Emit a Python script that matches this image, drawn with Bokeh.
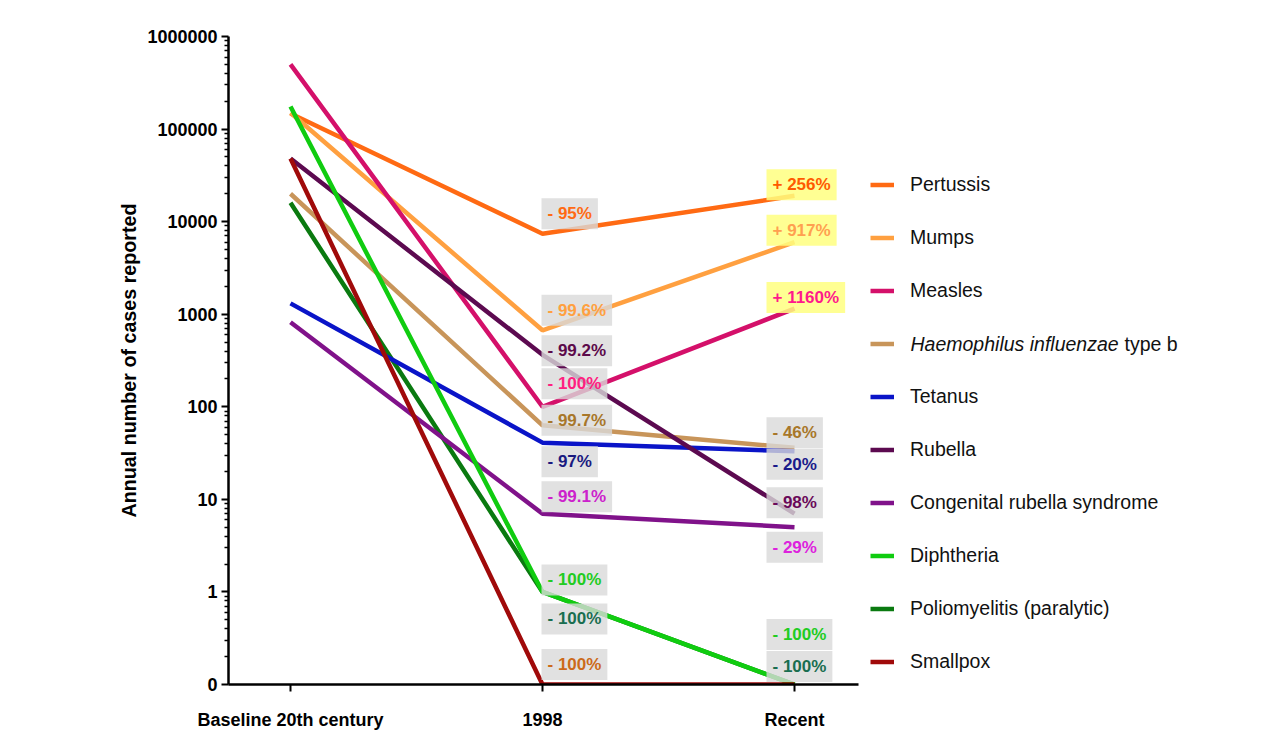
import math
from bokeh.plotting import figure
from bokeh.models import FixedTicker, Range1d, Label, Legend, LegendItem
from bokeh.embed import file_html
from bokeh.resources import INLINE

# ---------------- data ----------------
categories = ["Baseline 20th century", "1998", "Recent"]
diseases = ["Pertussis", "Mumps", "Measles", "Haemophilus influenzae type b", "Tetanus",
            "Rubella", "Congenital rubella syndrome", "Diphtheria",
            "Poliomyelitis (paralytic)", "Smallpox"]
pertussis = [147000, 7400, 19000]
mumps = [150000, 670, 6000]
measles = [500000, 100, 1150]
hib = [20000, 63, 36]
tetanus = [1310, 41, 33]
rubella = [48000, 364, 7]
crs = [820, 7, 5]
diphtheria = [175000, 1, 0]
polio = [16000, 1, 0]
smallpox = [48000, 0, 0]
series = [pertussis, mumps, measles, hib, tetanus, rubella, crs, diphtheria, polio, smallpox]

change_1998 = ["- 95%", "- 99.6%", "- 100%", "- 99.7%", "- 97%", "- 99.2%", "- 99.1%",
               "- 100%", "- 100%", "- 100%"]
change_recent = ["+ 256%", "+ 917%", "+ 1160%", "- 46%", "- 20%", "- 98%", "- 29%",
                 "- 100%", "- 100%", None]

ytick_values = [0.1, 1, 10, 100, 1000, 10000, 100000, 1000000]
ytick_labels = ["0", "1", "10", "100", "1000", "10000", "100000", "1000000"]

# ---------------- styles / layout ----------------
line_colors = ["#ff6a13", "#ffa040", "#d4106a", "#c8955a", "#0a14c8", "#5c0a50",
               "#80128a", "#10cc10", "#0a7a10", "#a00a0a"]
draw_order = [8, 0, 1, 2, 3, 4, 5, 6, 7, 9]  # polio beneath diphtheria
text_1998 = ["#ff6a13", "#ffa040", "#ff2080", "#a8772a", "#1a1a80", "#5c0a4a",
             "#cc22cc", "#22cc22", "#1a6e50", "#cc6a1a"]
text_recent = ["#ff5a00", "#ffa050", "#ff1a8c", "#a8772a", "#1a1a8a", "#6a0a5a",
               "#dd22dd", "#22cc22", "#1a6e50", None]
off_1998 = [20, 20, 23, 5, -19, 4, 17, 12, -27, 20]
off_recent = [11, 12, 11, 15, -13, 11, -20, 50, 18, None]

ZERO_POS = 0.1  # where the "0" value sits on the log axis
FRAME_L, FRAME_T, FRAME_W, FRAME_H = 228, 36, 1048, 648
PX_PER_CAT = 252
X0 = -62 / PX_PER_CAT
X1 = X0 + FRAME_W / PX_PER_CAT
FONT = "Liberation Sans"


def px_x(px):
    return X0 + px / PX_PER_CAT


def px_y(py_from_top):
    lo, hi = math.log10(ZERO_POS), math.log10(1e6)
    return 10 ** (hi - py_from_top / FRAME_H * (hi - lo))


p = figure(frame_width=FRAME_W, frame_height=FRAME_H, y_axis_type="log",
           x_range=Range1d(X0, X1), y_range=Range1d(ZERO_POS, 1e6),
           output_backend="svg", toolbar_location=None,
           min_border_left=FRAME_L, min_border_top=FRAME_T, min_border_bottom=46,
           min_border_right=0)
p.outline_line_color = None
p.xgrid.visible = False
p.ygrid.visible = False
p.background_fill_color = "white"
p.border_fill_color = "white"

xs = list(range(len(categories)))
renderers = [None] * len(series)
for i in draw_order:
    ys = [v if v > 0 else ZERO_POS for v in series[i]]
    renderers[i] = p.line(xs, ys, line_color=line_colors[i], line_width=4.5)

# annotation boxes
for i, vals in enumerate(series):
    v = vals[1] if vals[1] > 0 else ZERO_POS
    p.add_layout(Label(x=1, y=v, x_offset=-1, y_offset=off_1998[i], text=change_1998[i],
                       text_align="left", text_baseline="middle",
                       text_font=FONT, text_font_size="17px", text_font_style="bold",
                       text_color=text_1998[i], background_fill_color="#d9d9d9",
                       background_fill_alpha=0.8, padding=6))
    if change_recent[i] is not None:
        v = vals[2] if vals[2] > 0 else ZERO_POS
        yellow = change_recent[i].startswith("+")
        p.add_layout(Label(x=2, y=v, x_offset=-28, y_offset=off_recent[i], text=change_recent[i],
                           text_align="left", text_baseline="middle",
                           text_font=FONT, text_font_size="17px", text_font_style="bold",
                           text_color=text_recent[i],
                           background_fill_color="#ffff80" if yellow else "#d9d9d9",
                           background_fill_alpha=0.85 if yellow else 0.8, padding=6))

# axes
p.xaxis.ticker = FixedTicker(ticks=xs)
p.xaxis.major_label_overrides = {i: c for i, c in enumerate(categories)}
p.xaxis.bounds = (X0, 2 + 64 / PX_PER_CAT)
p.xaxis.axis_line_width = 2.5
p.xaxis.major_tick_line_width = 2
p.xaxis.major_tick_out = 7
p.xaxis.major_tick_in = 0
p.xaxis.minor_tick_line_color = None
p.xaxis.major_label_standoff = 18
p.xaxis.major_label_text_font = FONT
p.xaxis.major_label_text_font_size = "18px"
p.xaxis.major_label_text_font_style = "bold"
p.xaxis.major_label_text_color = "black"

minor = [k * 10 ** d for d in range(-1, 6) for k in range(2, 10)]
p.yaxis.ticker = FixedTicker(ticks=ytick_values, minor_ticks=minor)
p.yaxis.major_label_overrides = {v: l for v, l in zip(ytick_values, ytick_labels)}
p.yaxis.axis_line_width = 2.5
p.yaxis.major_tick_line_width = 2
p.yaxis.major_tick_out = 7
p.yaxis.major_tick_in = 0
p.yaxis.minor_tick_out = 4
p.yaxis.minor_tick_in = 0
p.yaxis.minor_tick_line_width = 1.5
p.yaxis.major_label_standoff = 4
p.yaxis.major_label_text_font = FONT
p.yaxis.major_label_text_font_size = "18px"
p.yaxis.major_label_text_font_style = "bold"
p.yaxis.major_label_text_color = "black"
p.yaxis.axis_label = "Annual number of cases reported"
p.yaxis.axis_label_text_font = FONT
p.yaxis.axis_label_text_font_size = "19.7px"
p.yaxis.axis_label_text_font_style = "bold"
p.yaxis.axis_label_text_color = "black"
p.yaxis.axis_label_standoff = 4

# legend
items = []
for name, r in zip(diseases, renderers):
    lab = " " if name.startswith("Haemophilus") else name
    items.append(LegendItem(label=lab, renderers=[r]))
legend = Legend(items=items, location=(642, -4), glyph_width=24, glyph_height=53,
                label_height=53, spacing=0, padding=0, margin=0, label_standoff=16,
                label_text_font=FONT, label_text_font_size="19.5px",
                label_text_color="#111111", border_line_color=None,
                background_fill_alpha=0)
p.add_layout(legend)

hib_y = px_y(343 - 36)
p.add_layout(Label(x=px_x(910 - 228), y=hib_y, text="Haemophilus influenzae",
                   text_align="left", text_baseline="middle", text_font=FONT,
                   text_font_size="19.5px", text_font_style="italic", text_color="#111111"))
p.add_layout(Label(x=px_x(1124 - 228), y=hib_y, text="type b",
                   text_align="left", text_baseline="middle", text_font=FONT,
                   text_font_size="19.5px", text_color="#111111"))

open("out.html", "w").write(file_html(p, INLINE))
